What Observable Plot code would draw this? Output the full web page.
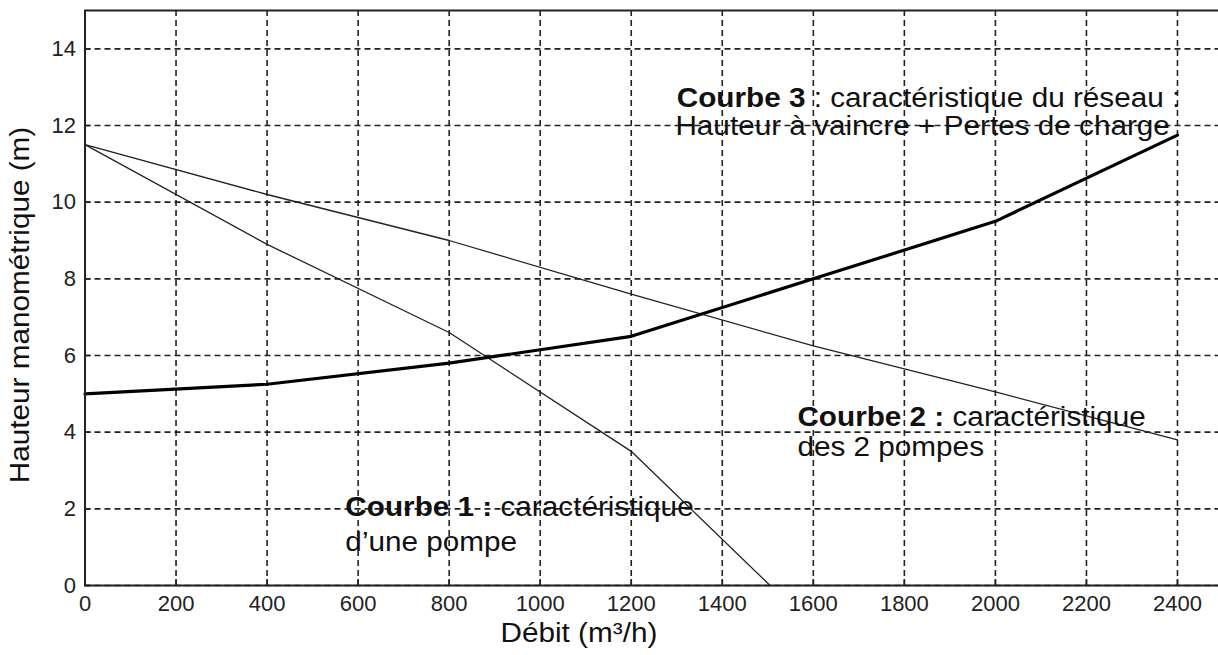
<!DOCTYPE html>
<html><head><meta charset="utf-8">
<script src="https://cdn.jsdelivr.net/npm/d3@7"></script>
<script src="https://cdn.jsdelivr.net/npm/@observablehq/plot@0.6"></script>
<style>
html,body{margin:0;padding:0;background:#fff;overflow:hidden;}
#chart svg{font-family:"Liberation Sans",Arial,sans-serif;}
</style></head><body><div id="chart"></div>
<script>
// Débit (m³/h) at the curve vertices
const flow = [0, 400, 800, 1200, 1600, 2000, 2400];
// Courbe 2 : caractéristique des 2 pompes
const courbe2 = [11.5, 10.2, 9.0, 7.6, 6.25, 5.05, 3.8];
// Courbe 3 : caractéristique du réseau
const courbe3 = [5.0, 5.25, 5.8, 6.5, 8.0, 9.5, 11.75];
// Courbe 1 : caractéristique d'une pompe
const courbe1Flow = [0, 400, 800, 1200, 1505];
const courbe1 = [11.5, 8.9, 6.6, 3.5, 0];

const xTicks = [0, 200, 400, 600, 800, 1000, 1200, 1400, 1600, 1800, 2000, 2200, 2400];
const yTicks = [0, 2, 4, 6, 8, 10, 12, 14];

const xLabel = "Débit (m³/h)";
const yLabel = "Hauteur manométrique (m)";

// annotation lines (text, bold prefix, anchor in data units)
const noteTexts = [
  "Courbe 3 : caractéristique du réseau :",
  "Hauteur à vaincre + Pertes de charge",
  "Courbe 2 : caractéristique",
  "des 2 pompes",
  "Courbe 1 : caractéristique",
  "d’une pompe"
];
const noteBold = ["Courbe 3", "", "Courbe 2 :", "", "Courbe 1 :", ""];
const noteFlow = [1300, 1297, 1565, 1565, 572, 572];
const noteHeight = [12.49, 11.76, 4.17, 3.37, 1.82, 0.91];
const xLabelFlow = 1085;

const seriesC2 = flow.map((f, i) => ({flow: f, h: courbe2[i]}));
const seriesC3 = flow.map((f, i) => ({flow: f, h: courbe3[i]}));
const seriesC1 = courbe1Flow.map((f, i) => ({flow: f, h: courbe1[i]}));
const notes = noteTexts.map((t, i) => ({text: t, bold: noteBold[i], flow: noteFlow[i], h: noteHeight[i]}));

const W = 1218, H = 655, ML = 84.5, MR = -4.5, MT = 10, MB = 70;
const gridStyle = {stroke: "#222", strokeOpacity: 1, strokeWidth: 1.6, strokeDasharray: "6,4"};

const chart = Plot.plot({
  width: W, height: H,
  marginLeft: ML, marginRight: MR, marginTop: MT, marginBottom: MB,
  x: {domain: [0, 2500], ticks: xTicks, label: null, tickFormat: d => `${d}`},
  y: {domain: [0, 15], ticks: yTicks, label: null, tickFormat: d => `${d}`},
  style: {fontFamily: "'Liberation Sans', Arial, sans-serif", fontSize: "22px", color: "#222", background: "#fff"},
  marks: [
    Plot.gridX(xTicks, gridStyle),
    Plot.gridY(yTicks, gridStyle),
    Plot.tickX(xTicks, {x: d => d, stroke: "#222", strokeWidth: 1.6, insetTop: (H - MT - MB) - 6}),
    Plot.tickY(yTicks, {y: d => d, stroke: "#222", strokeWidth: 1.6, insetRight: (W - ML - MR) - 6}),
    Plot.line(seriesC1, {x: "flow", y: "h", stroke: "#222", strokeWidth: 1.3}),
    Plot.line(seriesC2, {x: "flow", y: "h", stroke: "#222", strokeWidth: 1.3}),
    Plot.line(seriesC3, {x: "flow", y: "h", stroke: "#000", strokeWidth: 3.2}),
    Plot.frame({stroke: "#222", strokeWidth: 2}),
    Plot.axisX(xTicks, {tickSize: 0, tickPadding: 10, fontSize: 22, fill: "#222", tickFormat: d => `${d}`}),
    Plot.axisY(yTicks, {tickSize: 0, tickPadding: 9, fontSize: 22, fill: "#222", tickFormat: d => `${d}`}),
    Plot.text(notes, {x: "flow", y: "h", text: "text", textAnchor: "start", lineAnchor: "bottom", fontSize: 27, fill: "#111"}),
    Plot.text([xLabel], {x: [xLabelFlow], text: d => d, frameAnchor: "bottom", dy: 48, textAnchor: "middle", lineAnchor: "middle", fontSize: 27, fill: "#111"}),
    Plot.text([yLabel], {text: d => d, frameAnchor: "left", dx: -64.5, dy: 7, rotate: -90, textAnchor: "middle", lineAnchor: "middle", fontSize: 27, fill: "#111"})
  ]
});

document.getElementById("chart").appendChild(chart);

const allText = Array.from(chart.querySelectorAll("text"));
const SVGNS = "http://www.w3.org/2000/svg";

// tick labels: digits only
allText.filter(t => /^\d+$/.test(t.textContent)).forEach(t => t.setAttribute("font-size", "22"));

// the reference's lettering is slightly wide: stretch it horizontally
function stretch(t, k) {
  const L = t.getComputedTextLength();
  t.setAttribute("textLength", (L * k).toFixed(1));
  t.setAttribute("lengthAdjust", "spacingAndGlyphs");
}

allText.forEach(t => {
  const s = t.textContent;
  const n = notes.find(d => d.text === s);
  if (n) {
    if (n.bold) {
      t.textContent = "";
      const b = document.createElementNS(SVGNS, "tspan");
      b.setAttribute("font-weight", "bold");
      b.textContent = n.bold;
      const r = document.createElementNS(SVGNS, "tspan");
      r.textContent = s.slice(n.bold.length);
      t.appendChild(b); t.appendChild(r);
    }
    stretch(t, 1.1);
  } else if (s === xLabel || s === yLabel) {
    stretch(t, 1.1);
  }
});
</script></body></html>
